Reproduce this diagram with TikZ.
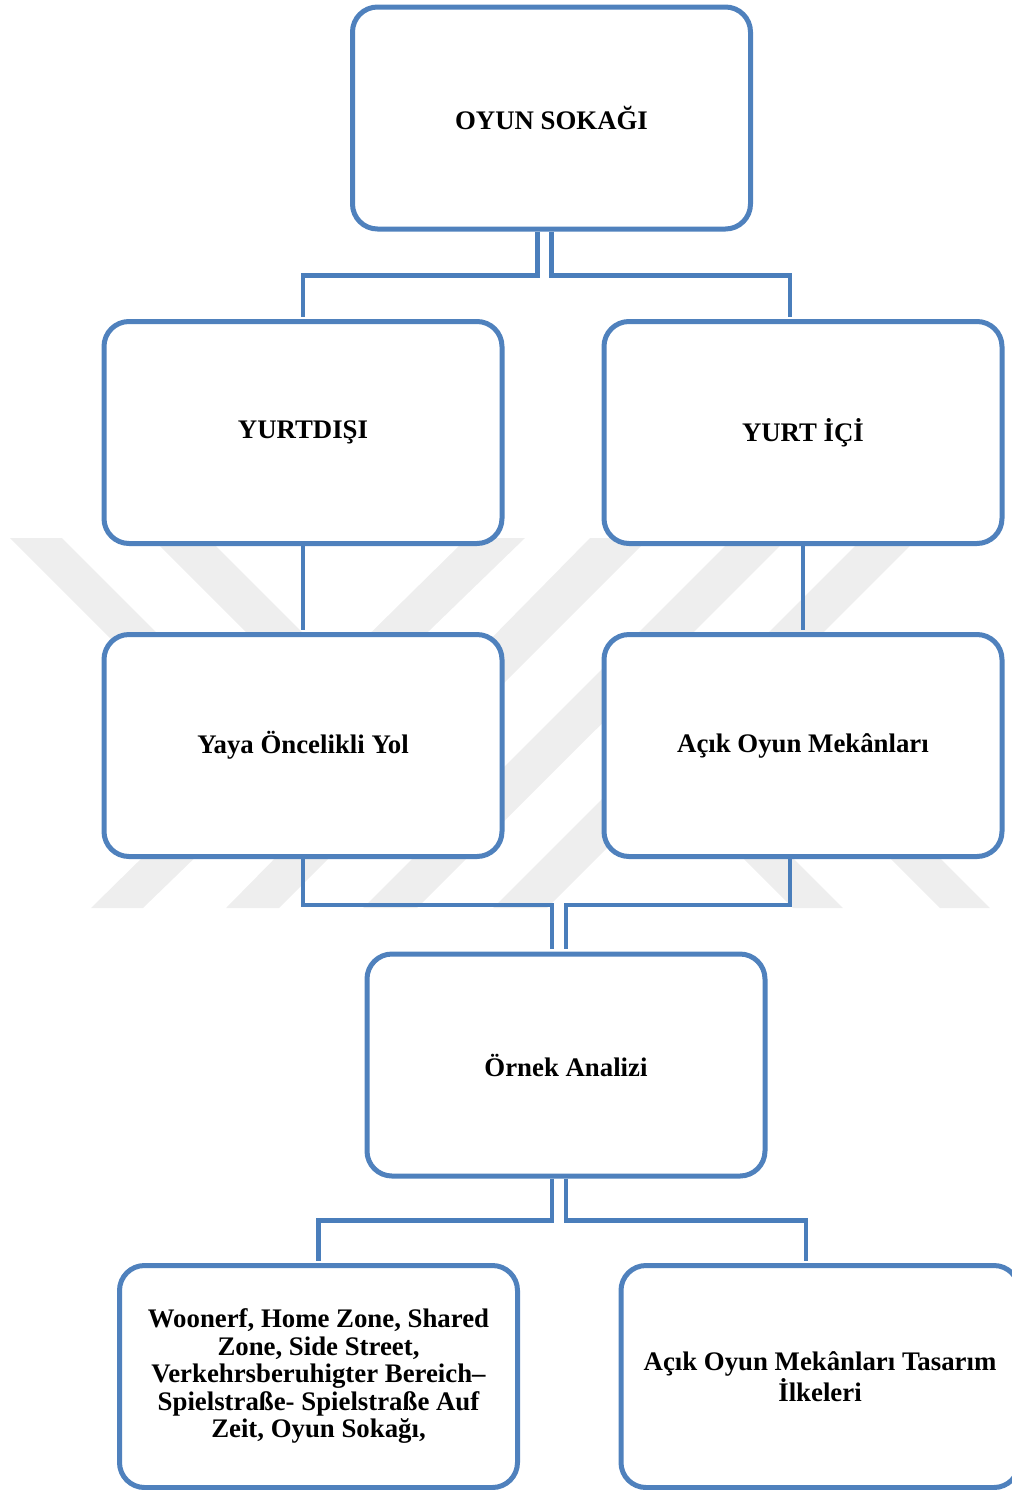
\documentclass[tikz,border=0pt]{standalone}
\usepackage{fontspec}
\setmainfont{Liberation Serif}
\definecolor{boxblue}{RGB}{79,129,189}
\definecolor{lineblue}{RGB}{74,126,187}
\definecolor{markgray}{RGB}{238,238,238}
\tikzset{every picture/.style={line width=0.75pt}}
\tikzset{
  box/.style={draw=boxblue, line width=2.5pt, fill=white, rounded corners=12.5pt,
    minimum width=199pt, minimum height=111pt, inner sep=0pt, align=center,
    font=\fontsize{13.4pt}{13.75pt}\selectfont\bfseries},
  elbow/.style={draw=lineblue, line width=2.4pt, line join=miter, shorten >=1.25pt},
  stripe/.style={fill=markgray, draw=none}
}

\begin{document}
\begin{tikzpicture}[x=0.5pt,y=0.5pt,yscale=-1,xscale=1]
\useasboundingbox (0,0) rectangle (1012,1490);

%Watermark: rising stripes
\fill[stripe] (467,538) -- (525,538) -- (143,908) -- (91,908) -- cycle;
\fill[stripe] (590,538) -- (649,538) -- (279,908) -- (226,908) -- cycle;
\fill[stripe] (733,538) -- (788,538) -- (417,908) -- (363,908) -- cycle;
\fill[stripe] (863,538) -- (918,538) -- (547,908) -- (493,908) -- cycle;
%Watermark: falling stripes
\fill[stripe] (10,538) -- (62,538) -- (264,740) -- (212,740) -- cycle;
\fill[stripe] (152,538) -- (208,538) -- (410,740) -- (354,740) -- cycle;
\fill[stripe] (645,760) -- (695,760) -- (843,908) -- (793,908) -- cycle;
\fill[stripe] (792,760) -- (842,760) -- (990,908) -- (940,908) -- cycle;

%Boxes
\node[box] (sokak) at (551.5,118) {OYUN SOKAĞI};
\node[box] (yurtdisi) at (303,432.5) {YURTDIŞI};
\node[box] (yurtici) at (803,432.5) {YURT İÇİ};
\node[box] (yaya) at (303,745.5) {Yaya Öncelikli Yol};
\node[box] (acik) at (803,745.5) {Açık Oyun Mekânları};
\node[box] (ornek) at (566,1065) {Örnek Analizi};
\node[box] (woonerf) at (318.5,1376.5) {Woonerf, Home Zone, Shared\\Zone, Side Street,\\Verkehrsberuhigter Bereich–\\Spielstraße- Spielstraße Auf\\Zeit, Oyun Sokağı,};
\node[box] (ilkeler) at (820,1376.5) {Açık Oyun Mekânları Tasarım\\İlkeleri};

%Elbow connectors
\draw[elbow] ([xshift=-7pt]sokak.south) -- ++(0,44) -| (yurtdisi.north);
\draw[elbow] (sokak.south) -- ++(0,44) -| ([xshift=-6.5pt]yurtici.north);
\draw[elbow] (yurtdisi.south) -- (yaya.north);
\draw[elbow] (yurtici.south) -- (acik.north);
\draw[elbow] (yaya.south) -- ++(0,46) -| ([xshift=-7pt]ornek.north);
\draw[elbow] ([xshift=-6.5pt]acik.south) -- ++(0,46) -| (ornek.north);
\draw[elbow] ([xshift=-7pt]ornek.south) -- ++(0,42) -| (woonerf.north);
\draw[elbow] (ornek.south) -- ++(0,42) -| ([xshift=-7pt]ilkeler.north);

\end{tikzpicture}
\end{document}
